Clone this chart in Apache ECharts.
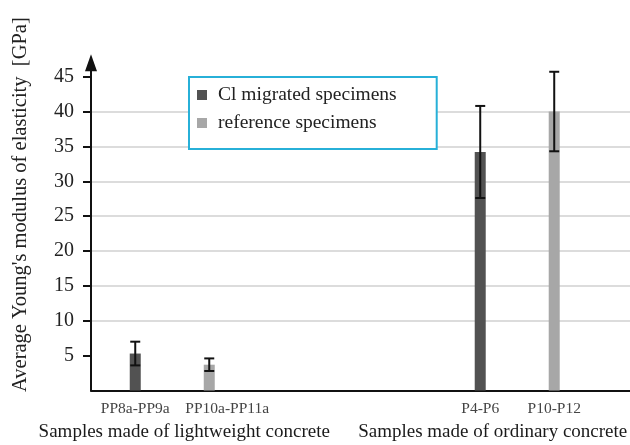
<!DOCTYPE html>
<html>
<head>
<meta charset="utf-8">
<script src="https://cdn.jsdelivr.net/npm/echarts@6/dist/echarts.min.js"></script>
<style>
  html, body { margin: 0; padding: 0; background: #fff; }
  #chart { width: 630px; height: 445px; }
</style>
</head>
<body>
<div id="chart"></div>
<script>
// Concrete groups and the sample sets measured in each
const groups = ['Samples made of lightweight concrete', 'Samples made of ordinary concrete'];
const migratedNames = ['PP8a-PP9a', 'P4-P6'];
const referenceNames = ['PP10a-PP11a', 'P10-P12'];

// Mean Young's modulus [GPa] and spread (±) per group
const migratedMean = [5.3, 34.2];
const migratedErr = [1.7, 6.6];
const referenceMean = [3.7, 40.0];
const referenceErr = [0.9, 5.7];

// Value-axis tick labels
const yTicks = [5, 10, 15, 20, 25, 30, 35, 40, 45];

const FONT = '"Liberation Serif", "Times New Roman", serif';
const DARK = '#525252';
const LIGHT = '#a7a7a7';
const BAR_W = 11;
const GAP_PX = 63;
const HALF_STEP = (BAR_W + GAP_PX) / 2;
const Y_MAX = 47;
const GRID_TOP = 62.7;
const GRID_BOTTOM = 54.5;

// The two groups sit on every other slot of the category axis,
// leaving an empty slot between them.
const slotCategories = [];
groups.forEach((g, i) => {
  if (i > 0) slotCategories.push('');
  slotCategories.push(g);
});
const slotOf = i => i * 2;
const spread = arr => {
  const out = slotCategories.map(() => '-');
  arr.forEach((v, i) => { out[slotOf(i)] = v; });
  return out;
};
const nameAtSlot = (names, slot) => names[slot / 2];

function errorSeries(name, means, errs, sign) {
  return {
    type: 'custom',
    name: name,
    xAxisIndex: 1,
    yAxisIndex: 1,
    z: 5,
    data: means.map((m, i) => [slotOf(i), m, errs[i]]),
    renderItem: function (params, api) {
      const i = api.value(0), m = api.value(1), e = api.value(2);
      const top = api.coord([i, m + e]);
      const bot = api.coord([i, m - e]);
      const x = top[0] + sign * HALF_STEP;
      const cap = 5;
      const style = { stroke: '#111', lineWidth: 2 };
      return {
        type: 'group',
        children: [
          { type: 'line', shape: { x1: x, y1: top[1], x2: x, y2: bot[1] }, style: style },
          { type: 'line', shape: { x1: x - cap, y1: top[1], x2: x + cap, y2: top[1] }, style: style },
          { type: 'line', shape: { x1: x - cap, y1: bot[1], x2: x + cap, y2: bot[1] }, style: style }
        ]
      };
    }
  };
}

const chart = echarts.init(document.getElementById('chart'), null, { renderer: 'canvas' });

const groupShift = { 0: [0, 0, 0, 24], 2: [0, 49, 0, 0] };

const option = {
  animation: false,
  backgroundColor: '#ffffff',
  textStyle: { fontFamily: FONT },
  legend: {
    data: ['Cl migrated specimens', 'reference specimens'],
    orient: 'vertical',
    left: 189,
    top: 77,
    padding: [8, 40, 16, 8],
    itemWidth: 10,
    itemHeight: 10,
    itemGap: 8,
    icon: 'rect',
    borderColor: '#27b0d8',
    borderWidth: 2,
    backgroundColor: '#ffffff',
    textStyle: { fontFamily: FONT, fontSize: 19.5, color: '#222', padding: [0, 0, 0, 6] }
  },
  grid: [
    { left: 91, right: 0, top: GRID_TOP, bottom: GRID_BOTTOM },
    { left: 86, width: 519, top: GRID_TOP, bottom: GRID_BOTTOM }
  ],
  xAxis: [
    {
      type: 'value', gridIndex: 0, min: 0, max: 1,
      axisLine: { show: true, lineStyle: { color: '#111', width: 2 } },
      axisTick: { show: false }, axisLabel: { show: false }, splitLine: { show: false }
    },
    {
      type: 'category', gridIndex: 1,
      data: slotCategories.map((g, i) => groupShift[i] ? { value: g, textStyle: { padding: groupShift[i] } } : g),
      axisLine: { show: false }, axisTick: { show: false },
      axisLabel: { margin: 32, fontFamily: FONT, fontSize: 19, color: '#1a1a1a', interval: 0 }
    }
  ],
  yAxis: [
    {
      type: 'value', gridIndex: 0, min: 0, max: Y_MAX, interval: 5,
      name: 'Average Young\'s modulus of elasticity  [GPa]',
      nameLocation: 'middle',
      nameRotate: 90,
      nameGap: 60,
      nameTextStyle: { fontFamily: FONT, fontSize: 20.5, color: '#222', padding: [0, 0, 0, 44] },
      axisLine: {
        show: true, symbol: ['none', 'triangle'], symbolSize: [12, 17],
        lineStyle: { color: '#111', width: 2 }
      },
      axisTick: { show: true, customValues: yTicks, length: 8, lineStyle: { color: '#111', width: 2 } },
      axisLabel: { customValues: yTicks, margin: 17, fontFamily: FONT, fontSize: 20, color: '#222' },
      splitLine: { show: true, showMinLine: false, showMaxLine: false, lineStyle: { color: '#d0d0d0', width: 1.5 } }
    },
    {
      type: 'value', gridIndex: 1, min: 0, max: Y_MAX, show: false, splitLine: { show: false }
    }
  ],
  series: [
    {
      type: 'bar', name: 'Cl migrated specimens', xAxisIndex: 1, yAxisIndex: 1,
      barWidth: BAR_W, barGap: (GAP_PX / BAR_W * 100) + '%',
      itemStyle: { color: DARK },
      data: spread(migratedMean),
      label: {
        show: true, position: 'bottom', distance: 10,
        formatter: p => nameAtSlot(migratedNames, p.dataIndex),
        fontFamily: FONT, fontSize: 15.5, color: '#444'
      }
    },
    {
      type: 'bar', name: 'reference specimens', xAxisIndex: 1, yAxisIndex: 1,
      barWidth: BAR_W,
      itemStyle: { color: LIGHT },
      data: spread(referenceMean).map((v, i) => i === 0 ? { value: v, label: { offset: [18, 0] } } : v),
      label: {
        show: true, position: 'bottom', distance: 10,
        formatter: p => nameAtSlot(referenceNames, p.dataIndex),
        fontFamily: FONT, fontSize: 15.5, color: '#444'
      }
    },
    errorSeries('Cl migrated error', migratedMean, migratedErr, -1),
    errorSeries('reference error', referenceMean, referenceErr, 1)
  ]
};

chart.setOption(option);
</script>
</body>
</html>
